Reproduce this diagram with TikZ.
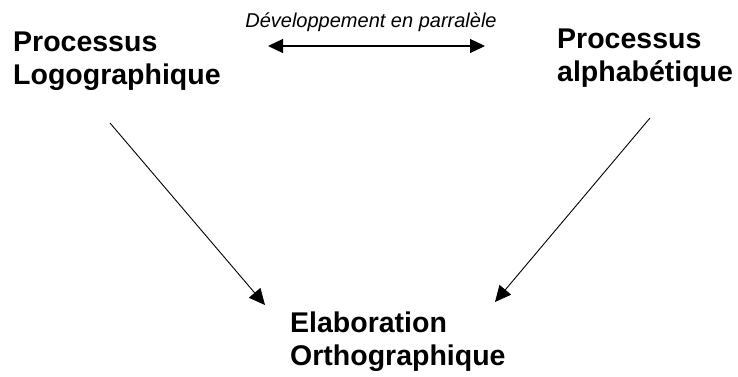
\documentclass[tikz,border=0pt]{standalone}
\usepackage{fontspec}
\setmainfont{Liberation Sans}
\usepackage{tikz}
\usetikzlibrary{arrows.meta}

\begin{document}
\begin{tikzpicture}[x=1pt,y=-1pt,
    proc/.style={font=\fontsize{28.5}{33}\selectfont\bfseries, align=left, inner sep=0pt, anchor=base west},
    note/.style={font=\fontsize{20}{22}\selectfont\itshape, inner sep=0pt, anchor=base},
    link/.style={-{Triangle[length=16pt,width=15pt]}, line width=0.9pt}]
    \useasboundingbox (0,0) rectangle (738,377);
    % Processus (base = last line)
    \node[proc] (logo) at (13,85) {Processus\\Logographique};
    \node[proc] (alpha) at (557,82) {Processus\\alphabétique};
    \node[proc] (ortho) at (290,365) {Elaboration\\Orthographique};
    
    % Parallele
    \node[note] (para) at (371,28) {Développement en parralèle};
    \coordinate (para-l) at (268,46);
    \coordinate (para-r) at (485,46);
    \draw[{Triangle[length=15pt,width=14pt]}-{Triangle[length=15pt,width=14pt]}, line width=1.3pt] (para-l) -- (para-r);
    
    % Vers l'orthographe
    \coordinate (logo-out) at (110,123);
    \coordinate (alpha-out) at (650,118);
    \coordinate (ortho-l) at (265,305);
    \coordinate (ortho-r) at (495,302);
    \draw[link] (logo-out) -- (ortho-l);
    \draw[link] (alpha-out) -- (ortho-r);
\end{tikzpicture}
\end{document}
